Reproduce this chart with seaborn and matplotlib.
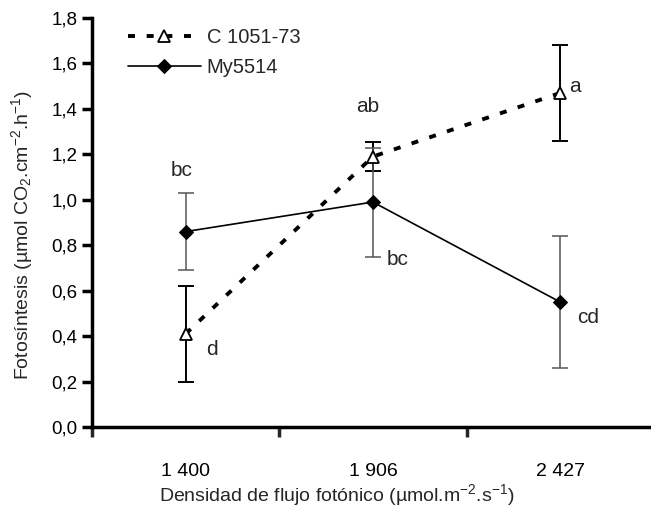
import numpy as np
import pandas as pd
import matplotlib
matplotlib.use("Agg")
import matplotlib.pyplot as plt
import seaborn as sns

# ---- data ----
categories = ["1 400", "1 906", "2 427"]
c_vals = [0.41, 1.19, 1.47]
c_err = [0.21, 0.065, 0.21]
my_vals = [0.86, 0.99, 0.55]
my_err = [0.17, 0.24, 0.29]
series_names = ["C 1051-73", "My5514"]
y_ticks = [0.0, 0.2, 0.4, 0.6, 0.8, 1.0, 1.2, 1.4, 1.6, 1.8]
letters_c = ["d", "ab", "a"]
letters_my = ["bc", "bc", "cd"]

sns.set_theme(style="white")
plt.rcParams["font.family"] = ["Liberation Sans", "DejaVu Sans"]
plt.rcParams["mathtext.fontset"] = "custom"
plt.rcParams["mathtext.rm"] = "Liberation Sans"
plt.rcParams["mathtext.it"] = "Liberation Sans:italic"

pos = list(range(len(categories)))
df = pd.DataFrame({
    "x": pos * 2,
    "y": c_vals + my_vals,
    "serie": [series_names[0]] * 3 + [series_names[1]] * 3,
})

fig = plt.figure(figsize=(6.51, 5.11), dpi=100)
ax = fig.add_axes([92 / 651, (511 - 427) / 511, 1.0 - 92 / 651, (427 - 18) / 511])

# error bars
ax.errorbar(pos, c_vals, yerr=c_err, fmt="none", ecolor="black", elinewidth=1.4,
            capsize=5.5, capthick=1.4, zorder=2)
ax.errorbar(pos, my_vals, yerr=my_err, fmt="none", ecolor="#555555", elinewidth=1.1,
            capsize=5.5, capthick=1.1, zorder=2)

sns.lineplot(data=df[df.serie == series_names[0]], x="x", y="y", ax=ax,
             color="black", lw=2.8, dashes=False, marker="^", markersize=8,
             markerfacecolor="white", markeredgecolor="black", markeredgewidth=1.3,
             label=series_names[0], zorder=3)
ax.lines[-1].set_dashes([1.8, 3.0])
sns.lineplot(data=df[df.serie == series_names[1]], x="x", y="y", ax=ax,
             color="black", lw=1.2, marker="D", markersize=7,
             markerfacecolor="black", markeredgecolor="black",
             label=series_names[1], zorder=4)

# letters
c_off = [(0.14, -0.07), (-0.03, 0.22), (0.08, 0.03)]
my_off = [(-0.02, 0.27), (0.13, -0.255), (0.15, -0.07)]
for i in pos:
    ax.text(i + c_off[i][0], c_vals[i] + c_off[i][1], letters_c[i], fontsize=15,
            ha="center", va="center")
    ax.text(i + my_off[i][0], my_vals[i] + my_off[i][1], letters_my[i], fontsize=15,
            ha="center", va="center")

ax.set_xlim(-0.5, 2.485)
ax.set_ylim(0, 1.8)
ax.set_yticks(y_ticks)
ax.set_yticklabels([f"{v:.1f}".replace(".", ",") for v in y_ticks], fontsize=13.5)
ax.set_xticks(pos)
ax.set_xticklabels(categories, fontsize=14)
ax.set_xticks([-0.5, 0.5, 1.5], minor=True)
ax.tick_params(axis="x", which="major", length=0, pad=26, colors="black")
ax.tick_params(axis="x", which="minor", length=7, width=2.5, direction="out", bottom=True)
ax.tick_params(axis="y", length=7, width=2.5, direction="out", left=True, colors="black")
for s in ["top", "right"]:
    ax.spines[s].set_visible(False)
for s in ["left", "bottom"]:
    ax.spines[s].set_linewidth(2.5)
    ax.spines[s].set_color("black")

ax.set_xlabel("Densidad de flujo fotónico (µmol.m$^{\\mathregular{-2}}$.s$^{\\mathregular{-1}}$)",
              fontsize=14)
ax.set_ylabel("Fotosíntesis (µmol CO$_{\\mathregular{2}}$.cm$^{\\mathregular{-2}}$.h$^{\\mathregular{-1}}$)",
              fontsize=14)
ax.xaxis.set_label_coords((337 - 92) / (651 - 92), -(495 - 427) / 409)
ax.yaxis.set_label_coords(-(92 - 22) / (651 - 92), (427 - 235) / 409)
ax.xaxis.label.set_va("center")
ax.yaxis.label.set_va("center")

leg = ax.legend(loc="upper left", bbox_to_anchor=(118 / 651, 1 - 18 / 511),
                bbox_transform=fig.transFigure, frameon=False, fontsize=14.5,
                handlelength=3.6, handletextpad=0.3, labelspacing=0.55, borderpad=0)

fig.savefig("out.png", dpi=100)
